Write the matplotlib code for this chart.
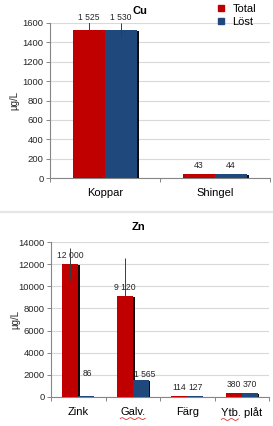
import numpy as np
import matplotlib
matplotlib.use("Agg")
import matplotlib.pyplot as plt
from matplotlib import patheffects as pe
from matplotlib.lines import Line2D

plt.rcParams['font.family'] = ['Liberation Sans', 'DejaVu Sans']

# ---- data ----
cu_categories = ["Koppar", "Shingel"]
cu_total = [1525, 43]
cu_lost = [1530, 44]
cu_total_err = [90, 0]
cu_lost_err = [65, 0]

zn_categories = ["Zink", "Galv.", "Färg", "Ytb. plåt"]
zn_total = [12000, 9120, 114, 380]
zn_lost = [86, 1565, 127, 370]
zn_total_err = [1430, 3400, 0, 0]
zn_lost_err = [0, 0, 0, 0]

series_names = ["Total", "Löst"]
cu_yticks = [0, 200, 400, 600, 800, 1000, 1200, 1400, 1600]
zn_yticks = [0, 2000, 4000, 6000, 8000, 10000, 12000, 14000]

RED = "#C00000"
BLUE = "#1F497D"
GRID = "#D9D9D9"
AXC = "#868686"
TXT = "#262626"

W, H = 273, 426
fig = plt.figure(figsize=(W / 100, H / 100), dpi=100)
fig.patch.set_facecolor("white")


def fmt(v):
    return f"{v:,}".replace(",", " ")


def make_chart(rect, cats, tot, lost, terr, lerr, yticks, title, title_xy, label_nudge):
    ax = fig.add_axes(rect)
    n = len(cats)
    x = np.arange(n)
    w = 0.29
    shadow = [pe.SimplePatchShadow(offset=(1.3, -0.8), shadow_rgbFace="black", alpha=0.95), pe.Normal()]
    b1 = ax.bar(x - w / 2, tot, w, color=RED, zorder=3)
    b2 = ax.bar(x + w / 2, lost, w, color=BLUE, zorder=3)
    for b in list(b1) + list(b2):
        b.set_path_effects(shadow)
    for xs, vals, errs in ((x - w / 2, tot, terr), (x + w / 2, lost, lerr)):
        for xi, v, e in zip(xs, vals, errs):
            if e:
                ax.errorbar(xi, v, yerr=e, fmt="none", ecolor="#3a3a3a", elinewidth=0.7, capsize=0, zorder=4)
    ax.set_xlim(-0.5, n - 0.5)
    ax.set_ylim(yticks[0], yticks[-1])
    ax.set_yticks(yticks)
    ax.set_yticklabels([str(t) for t in yticks], fontsize=6.8, color=TXT)
    ax.set_xticks(np.arange(n + 1) - 0.5)
    ax.set_xticklabels([])
    ax.set_xticks(x, minor=True)
    ax.set_xticklabels(cats, minor=True, fontsize=8, color="black")
    ax.tick_params(axis="x", which="major", length=3, color=AXC, width=0.7)
    ax.tick_params(axis="x", which="minor", length=0, pad=7.5)
    ax.tick_params(axis="y", length=3, color=AXC, width=0.7, pad=1.5)
    ax.grid(axis="y", color=GRID, linewidth=0.8, zorder=0)
    ax.set_axisbelow(True)
    for s in ("top", "right"):
        ax.spines[s].set_visible(False)
    for s in ("left", "bottom"):
        ax.spines[s].set_color(AXC)
        ax.spines[s].set_linewidth(0.8)
    ax.set_ylabel("µg/L", fontsize=7, color=TXT)
    ax.yaxis.set_label_coords(-0.14, 0.5)
    # data labels
    k = 0
    for xs, vals in ((x - w / 2, tot), (x + w / 2, lost)):
        for xi, v in zip(xs, vals):
            dx, dy = label_nudge.get(k, (0, 6))
            ax.annotate(fmt(v), (xi, v), xytext=(dx, dy), textcoords="offset points",
                        ha="center", va="center", fontsize=6.2, color=TXT, zorder=5)
            k += 1
    fig.text(title_xy[0] / W, 1 - title_xy[1] / H, title, ha="center", va="center",
             fontsize=8, fontweight="bold", color="black")
    return ax


ax1 = make_chart([50 / W, 1 - 178 / H, 220 / W, 155 / H], cu_categories, cu_total, cu_lost,
                 cu_total_err, cu_lost_err, cu_yticks, "Cu", (140, 11),
                 {0: (0, 9), 2: (0, 9)})
ax2 = make_chart([51 / W, 1 - 397 / H, 218 / W, 155 / H], zn_categories, zn_total, zn_lost,
                 zn_total_err, zn_lost_err, zn_yticks, "Zn", (138, 227),
                 {4: (1, 16), 5: (3, 4)})

handles = [Line2D([], [], marker="s", linestyle="none", markersize=4, color=RED),
           Line2D([], [], marker="s", linestyle="none", markersize=4, color=BLUE)]
fig.legend(handles, series_names, loc="upper left", bbox_to_anchor=(217 / W, 1 - 4 / H),
           frameon=False, fontsize=8, handlelength=0.8, handletextpad=0.6,
           labelspacing=0.25, borderpad=0, borderaxespad=0)

# separator between the two charts
fig.add_artist(Line2D([0, 1], [1 - 212 / H, 1 - 212 / H], transform=fig.transFigure,
                      color="#E6E6E6", linewidth=1.6))

# spell-check squiggles under labels
fig.canvas.draw()
r = fig.canvas.get_renderer()
for lab in ax2.get_xticklabels(minor=True):
    t = lab.get_text()
    if t in ("Galv.", "Ytb. plåt"):
        bb = lab.get_window_extent(r)
        x0 = bb.x0
        x1 = bb.x0 + (bb.width if t == "Galv." else bb.width * 0.42)
        xs = np.linspace(x0, x1, 40)
        ys = bb.y0 - 1.2 + 0.9 * np.sin((xs - x0) / 1.3)
        fig.add_artist(Line2D(xs / W, ys / H, transform=fig.transFigure, color="#E03030", linewidth=0.6))

fig.savefig("out.png", dpi=100, facecolor="white")
